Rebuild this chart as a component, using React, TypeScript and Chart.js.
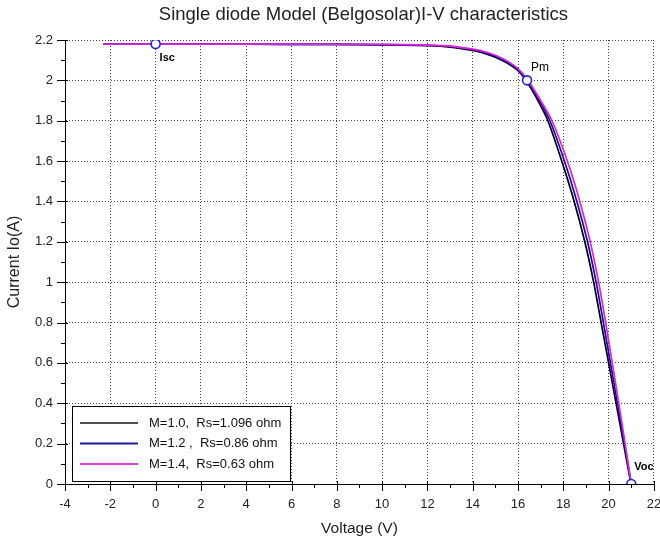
import React, { useEffect, useRef } from "react";
import { Chart, registerables } from "chart.js";

Chart.register(...registerables);

const titleText = "Single diode Model (Belgosolar)I-V characteristics";
const xAxisTitle = "Voltage (V)";
const yAxisTitle = "Current Io(A)";

const xTickValues = [-4, -2, 0, 2, 4, 6, 8, 10, 12, 14, 16, 18, 20, 22];
const yTickValues = [0, 0.2, 0.4, 0.6, 0.8, 1, 1.2, 1.4, 1.6, 1.8, 2, 2.2];

const seriesLabels = [
  "M=1.0,  Rs=1.096 ohm",
  "M=1.2 ,  Rs=0.86 ohm",
  "M=1.4,  Rs=0.63 ohm",
];

const voltageM10 = [-2.3, 0, 4, 8, 10, 12, 13, 14, 14.5, 15, 15.5, 16, 16.35, 16.88, 17.32, 17.93, 18.48, 18.95, 19.34, 19.67, 20.0, 20.33, 20.66, 20.99];
const currentM10 = [2.18, 2.18, 2.179, 2.178, 2.176, 2.172, 2.165, 2.148, 2.135, 2.115, 2.087, 2.048, 2.0, 1.9, 1.8, 1.6, 1.4, 1.2, 1.0, 0.8, 0.6, 0.4, 0.2, 0];

const voltageM12 = [-2.3, 0, 4, 8, 10, 12, 13, 14, 14.5, 15, 15.5, 16, 16.4, 16.94, 17.41, 18.05, 18.6, 19.07, 19.45, 19.77, 20.08, 20.39, 20.7, 21.0];
const currentM12 = [2.18, 2.18, 2.179, 2.178, 2.177, 2.174, 2.168, 2.152, 2.139, 2.12, 2.092, 2.053, 2.0, 1.9, 1.8, 1.6, 1.4, 1.2, 1.0, 0.8, 0.6, 0.4, 0.2, 0];

const voltageM14 = [-2.3, 0, 4, 8, 10, 12, 13, 14, 14.5, 15, 15.5, 16, 16.44, 17.0, 17.5, 18.18, 18.73, 19.19, 19.56, 19.87, 20.16, 20.45, 20.73, 21.0];
const currentM14 = [2.18, 2.18, 2.18, 2.179, 2.178, 2.175, 2.17, 2.155, 2.143, 2.124, 2.097, 2.058, 2.0, 1.9, 1.8, 1.6, 1.4, 1.2, 1.0, 0.8, 0.6, 0.4, 0.2, 0];

const markerVoltage = [0, 16.4, 21];
const markerCurrent = [2.18, 2.0, 0];
const markerLabels = ["Isc", "Pm", "Voc"];

const FONT = "'Liberation Sans', Arial, Helvetica, sans-serif";
const seriesColors = ["#000000", "#1010b0", "#e020e0"];
const legendColors = ["#505050", "#1a1aa0", "#e040e0"];
const markerLabelOffsets = [
  [4, 14],
  [4, -13],
  [3, -17],
];
const markerLabelFonts = [`bold 11px ${FONT}`, `12px ${FONT}`, `bold 11px ${FONT}`];

const toPoints = (xs: number[], ys: number[]) => xs.map((x, k) => ({ x, y: ys[k] }));

const decorPlugin = {
  id: "decor",
  afterDatasetsDraw(chart: any) {
    const { ctx, chartArea: ca, scales } = chart;
    const xs = scales.x;
    const ys = scales.y;
    ctx.save();
    ctx.strokeStyle = "#000";
    ctx.lineWidth = 1;
    ctx.beginPath();
    for (let v = -4; v <= 22; v += 1) {
      const px = Math.round(xs.getPixelForValue(v)) + 0.5;
      const major = v % 2 === 0;
      ctx.moveTo(px, ca.bottom - (major ? 3 : 0));
      ctx.lineTo(px, ca.bottom + (major ? 7 : 4));
    }
    for (let k = 0; k <= 22; k++) {
      const v = k / 10;
      const py = Math.round(ys.getPixelForValue(v)) + 0.5;
      const major = k % 2 === 0;
      ctx.moveTo(ca.left - (major ? 8 : 4), py);
      ctx.lineTo(ca.left + (major ? 3 : 0), py);
    }
    ctx.stroke();

    ctx.fillStyle = "#000";
    ctx.textBaseline = "middle";
    ctx.textAlign = "left";
    markerLabels.forEach((lab, k) => {
      const px = xs.getPixelForValue(markerVoltage[k]);
      const py = ys.getPixelForValue(markerCurrent[k]);
      ctx.font = markerLabelFonts[k];
      ctx.fillText(lab, px + markerLabelOffsets[k][0], py + markerLabelOffsets[k][1]);
    });

    const lx = ca.left + 7;
    const ly = ca.bottom - 78;
    const lw = 218;
    const lh = 75;
    ctx.fillStyle = "#fff";
    ctx.fillRect(lx, ly, lw, lh);
    ctx.strokeStyle = "#000";
    ctx.lineWidth = 1;
    ctx.strokeRect(Math.round(lx) + 0.5, Math.round(ly) + 0.5, lw, lh);
    ctx.font = `13px ${FONT}`;
    seriesLabels.forEach((lab, k) => {
      const ry = ly + 17 + k * 20.5;
      ctx.strokeStyle = legendColors[k];
      ctx.lineWidth = 2;
      ctx.beginPath();
      ctx.moveTo(lx + 8, ry);
      ctx.lineTo(lx + 66, ry);
      ctx.stroke();
      ctx.fillStyle = "#111";
      ctx.fillText(lab, lx + 77, ry);
    });

    ctx.fillStyle = "#222";
    ctx.font = `18.5px ${FONT}`;
    ctx.textAlign = "center";
    ctx.fillText(titleText, (ca.left + ca.right) / 2 + 4, 15);
    ctx.restore();
  },
};

export default function App() {
  const ref = useRef<HTMLCanvasElement | null>(null);

  useEffect(() => {
    if (!ref.current) return;
    const lineDs = (k: number, xs: number[], ys: number[], order: number) => ({
      label: seriesLabels[k],
      data: toPoints(xs, ys),
      borderColor: seriesColors[k],
      backgroundColor: seriesColors[k],
      borderWidth: 1.7,
      pointRadius: 0,
      fill: false,
      tension: 0.3,
      order,
    });
    const chart = new Chart(ref.current, {
      type: "line",
      data: {
        datasets: [
          {
            label: "points",
            data: toPoints(markerVoltage, markerCurrent),
            showLine: false,
            pointRadius: 4.5,
            pointBorderWidth: 1.6,
            pointBorderColor: "#2020d8",
            pointBackgroundColor: "#ffffff",
            borderColor: "#2020d8",
            order: 0,
          } as any,
          lineDs(2, voltageM14, currentM14, 1),
          lineDs(1, voltageM12, currentM12, 2),
          lineDs(0, voltageM10, currentM10, 3),
        ],
      },
      options: {
        animation: false,
        responsive: true,
        maintainAspectRatio: false,
        layout: { padding: { top: 40, right: 4, left: 0, bottom: 0 } },
        plugins: {
          legend: { display: false },
          tooltip: { enabled: false },
          title: { display: false },
        },
        scales: {
          x: {
            type: "linear",
            min: -4,
            max: 22,
            afterBuildTicks: (s: any) => {
              s.ticks = xTickValues.map((value) => ({ value }));
            },
            afterFit: (s: any) => {
              s.height = 60;
              s.paddingLeft = 0;
              s.paddingRight = 0;
            },
            ticks: {
              autoSkip: false,
              maxRotation: 0,
              padding: 13,
              color: "#222",
              font: { family: FONT, size: 13 },
              callback: (v: any) => String(v),
            },
            grid: { color: "#444", lineWidth: 1, drawTicks: false },
            border: { display: true, color: "#000", width: 1, dash: [1, 2] },
            title: {
              display: true,
              text: xAxisTitle,
              color: "#222",
              font: { family: FONT, size: 15.5 },
              padding: { top: 0, bottom: 6 },
            },
          },
          y: {
            type: "linear",
            min: 0,
            max: 2.2,
            afterBuildTicks: (s: any) => {
              s.ticks = yTickValues.map((value) => ({ value }));
            },
            afterFit: (s: any) => {
              s.width = 65;
              s.paddingTop = 0;
              s.paddingBottom = 0;
            },
            ticks: {
              autoSkip: false,
              padding: 12,
              color: "#222",
              font: { family: FONT, size: 13 },
              callback: (v: any) => String(v),
            },
            grid: { color: "#444", lineWidth: 1, drawTicks: false },
            border: { display: true, color: "#000", width: 1, dash: [1, 2] },
            title: {
              display: true,
              text: yAxisTitle,
              color: "#222",
              font: { family: FONT, size: 16 },
              padding: { top: 5, bottom: 0 },
            },
          },
        },
      },
      plugins: [decorPlugin],
    });
    return () => chart.destroy();
  }, []);

  return (
    <div style={{ position: "fixed", left: 0, top: 0, width: 660, height: 544, background: "#fff" }}>
      <canvas ref={ref} />
    </div>
  );
}
